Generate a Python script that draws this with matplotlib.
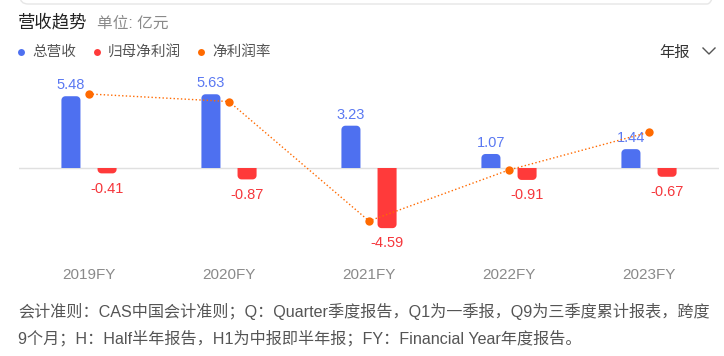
import matplotlib
matplotlib.use("Agg")
import numpy as np
import matplotlib.pyplot as plt
from matplotlib.patches import FancyBboxPatch, Polygon

plt.rcParams['font.family'] = ['Liberation Sans', 'Noto Sans CJK SC', 'DejaVu Sans']

# data
years = ['2019FY', '2020FY', '2021FY', '2022FY', '2023FY']
revenue = [5.48, 5.63, 3.23, 1.07, 1.44]          # 总营收, 亿元
net_profit = [-0.41, -0.87, -4.59, -0.91, -0.67]  # 归母净利润, 亿元
net_margin = [-7.5, -15.5, -142.1, -88.0, -48.0]  # 净利润率, %
legend_names = ['总营收', '归母净利润', '净利润率']
footnote = ['会计准则：CAS中国会计准则；Q：Quarter季度报告，Q1为一季报，Q9为三季度累计报表，跨度',
            '9个月；H：Half半年报告，H1为中报即半年报；FY：Financial Year年度报告。']

BLUE = '#4e70f0'
BLUE_TXT = '#5a78f2'
RED = '#ff3a3a'
RED_TXT = '#f5363b'
ORANGE = '#ff6a00'

W, H = 724, 356
fig = plt.figure(figsize=(W / 100, H / 100), dpi=100)

# main axes in pixel terms: x 19..719, y 75..258 (from top)
ax = fig.add_axes([19 / W, (H - 258) / H, 700 / W, 183 / H])
ax.set_xlim(-0.5, 4.5)
ax.set_ylim(-6.87, 7.1)

bw = 0.136
off = 0.129
rx = 4 / 140    # corner radius, x units
ry = 4 / 13.1   # corner radius, y units


def rounded_bar(x, h, color):
    # one polygon, rounded only on the end away from zero
    left, right = x - bw / 2, x + bw / 2
    s = 1 if h > 0 else -1
    ryy = min(ry, abs(h))
    t = np.linspace(0, np.pi / 2, 8)
    rc = [(right - rx + rx * np.sin(a), h - s * ryy + s * ryy * np.cos(a)) for a in t[::-1]]
    lc = [(left + rx - rx * np.sin(a), h - s * ryy + s * ryy * np.cos(a)) for a in t]
    pts = [(left, 0), (right, 0)] + rc + lc
    ax.add_patch(Polygon(pts, closed=True, fc=color, ec='none', zorder=2))


for i in range(len(years)):
    rounded_bar(i - off, revenue[i], BLUE)
    rounded_bar(i + off, net_profit[i], RED)
    ax.annotate(f'{revenue[i]:.2f}', (i - off, revenue[i]), xytext=(0, 3),
                textcoords='offset points', ha='center', va='bottom',
                color=BLUE_TXT, fontsize=10.5, zorder=4)
    ax.annotate(f'{net_profit[i]:.2f}', (i + off, net_profit[i]), xytext=(0, -6),
                textcoords='offset points', ha='center', va='top',
                color=RED_TXT, fontsize=10.5, zorder=4)

ax.axhline(0, color='#e0e0e0', lw=1, zorder=1)
ax.set_xticks(range(len(years)))
ax.set_xticklabels(years, color='#8a8a8a', fontsize=11)
ax.tick_params(axis='x', length=0, pad=7)
ax.set_yticks([])
for s in ax.spines.values():
    s.set_visible(False)

ax2 = ax.twinx()
ax2.set_ylim(-181.3, 12.6)
ax2.plot(range(len(years)), net_margin, color=ORANGE, lw=1, ls=':',
         marker='o', markersize=6, markeredgewidth=0, zorder=5)
ax2.set_yticks([])
for s in ax2.spines.values():
    s.set_visible(False)

# header / footer overlay in pixel coordinates
ov = fig.add_axes([0, 0, 1, 1], zorder=-1)
ov.set_xlim(0, W)
ov.set_ylim(H, 0)
ov.axis('off')

ov.add_patch(FancyBboxPatch((20, -40), 695, 44, boxstyle="round,pad=0,rounding_size=8",
                            fc='none', ec='#e6e6e6', lw=1))

ov.text(18, 22, '营收趋势', fontsize=12.5, color='#222222', va='center', ha='left')
ov.text(97, 23, '单位: 亿元', fontsize=11.3, color='#8a8a8a', va='center', ha='left')

leg_x = [21, 97, 201]
leg_c = [BLUE, RED, ORANGE]
for x, c, name in zip(leg_x, leg_c, legend_names):
    ov.plot([x], [52], 'o', color=c, markersize=5, markeredgewidth=0)
    ov.text(x + 11, 52, name, fontsize=10.5, color='#555555', va='center', ha='left')

ov.text(674, 53, '年报', fontsize=11, color='#333333', va='center', ha='center')
ov.plot([703, 709, 715], [48, 54, 48], color='#555555', lw=1)

ov.text(18, 312, footnote[0], fontsize=11.6, color='#555555', va='center', ha='left')
ov.text(18, 338, footnote[1], fontsize=11.6, color='#555555', va='center', ha='left')

fig.savefig('out.png', dpi=100)
